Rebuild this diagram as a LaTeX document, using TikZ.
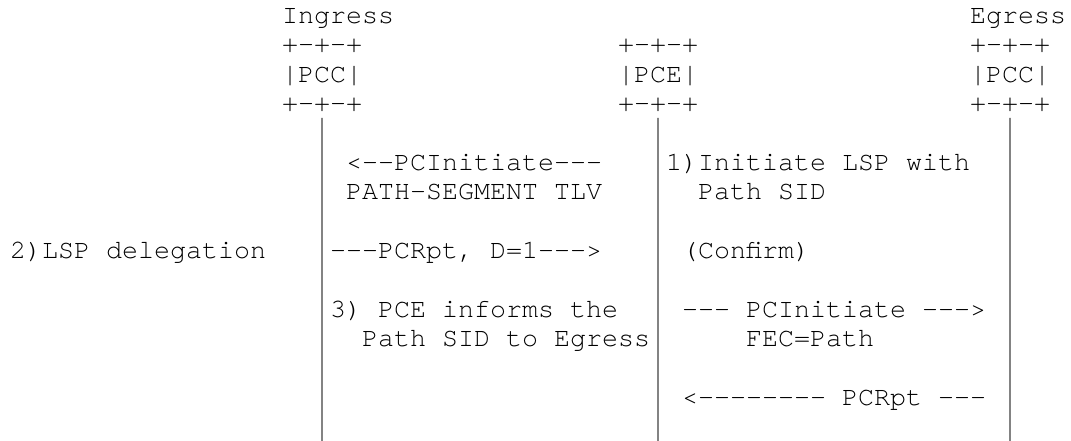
\documentclass[tikz,border=0pt]{standalone}
\usepackage{fontspec}
\setmonofont{texgyrecursor-regular.otf}
\begin{document}
\begin{tikzpicture}[x=1bp,y=-1bp,
  txt/.style={anchor=base west,inner sep=0pt,outer sep=0pt,
    font=\ttfamily\fontsize{26.67bp}{29.4bp}\selectfont,text=black},
  life/.style={line width=1.3bp,draw=black!75}]
\useasboundingbox (0,0) rectangle (1071,441);
% row 1
\node[txt] (ingT) at (282,23.5) {Ingress};
\node[txt] (egT)  at (970,23.5) {Egress};
% boxes
\node[txt] (i1) at (282,52.9) {+-+-+};
\node[txt] (p1) at (618,52.9) {+-+-+};
\node[txt] (e1) at (970,52.9) {+-+-+};
\node[txt] (i2) at (282,82.3) {|PCC|};
\node[txt] (p2) at (618,82.3) {|PCE|};
\node[txt] (e2) at (970,82.3) {|PCC|};
\node[txt] (i3) at (282,111.7) {+-+-+};
\node[txt] (p3) at (618,111.7) {+-+-+};
\node[txt] (e3) at (970,111.7) {+-+-+};
% lifelines
\coordinate (iEnd) at (322,441);
\coordinate (pEnd) at (658,441);
\coordinate (eEnd) at (1010,441);
\draw[life] ([yshift=-6.3bp]i3.base) -- (iEnd);
\draw[life] ([yshift=-6.3bp]p3.base) -- (pEnd);
\draw[life] ([yshift=-6.3bp]e3.base) -- (eEnd);
% row 6
\node[txt] (m1) at (346,170.5) {<--PCInitiate---};
\node[txt] (n1) at (666,170.5) {1)Initiate LSP with};
% row 7
\node[txt] (m2) at (346,199.9) {PATH-SEGMENT TLV};
\node[txt] (n2) at (698,199.9) {Path SID};
% row 9
\node[txt] (d)  at (10,258.7)  {2)LSP delegation};
\node[txt] (m3) at (330,258.7) {---PCRpt, D=1--->};
\node[txt] (n3) at (682,258.7) {(Confirm)};
% row 11
\node[txt] (m4) at (330,317.5) {3) PCE informs the};
\node[txt] (n4) at (682,317.5) {--- PCInitiate --->};
% row 12
\node[txt] (m5) at (362,346.9) {Path SID to Egress};
\node[txt] (n5) at (746,346.9) {FEC=Path};
% row 14
\node[txt] (n6) at (682,405.7) {<-------- PCRpt ---};
\end{tikzpicture}
\end{document}
